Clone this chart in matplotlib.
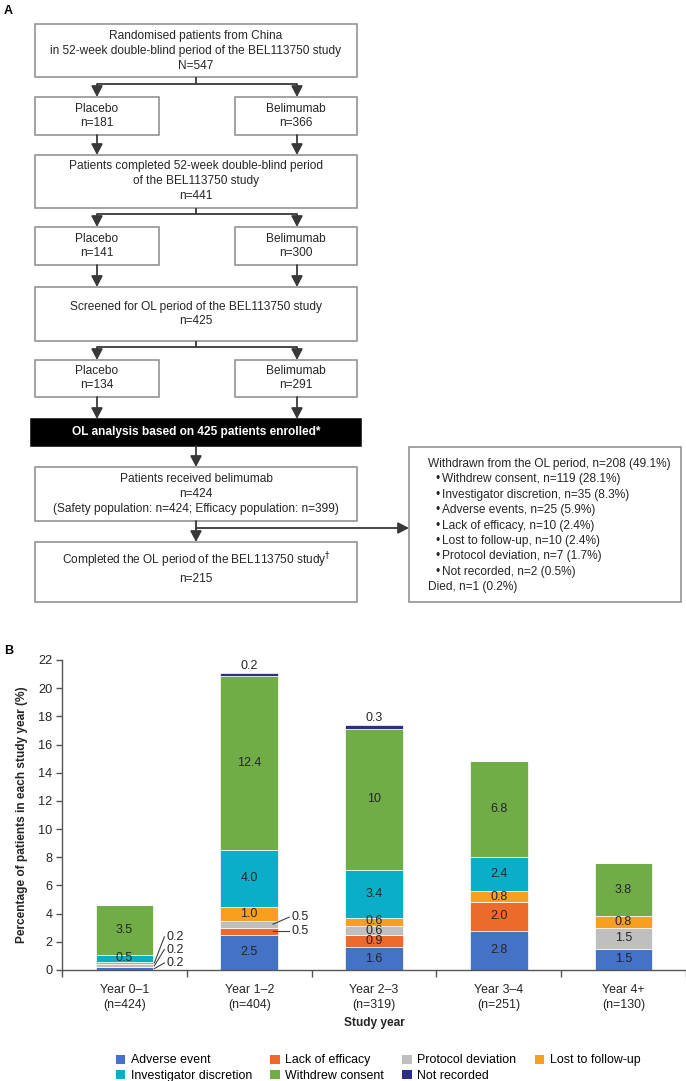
import matplotlib
matplotlib.use("Agg")
import matplotlib.pyplot as plt
from matplotlib.patches import Rectangle, Patch
import numpy as np

plt.rcParams['font.family'] = ['Liberation Sans', 'DejaVu Sans']

# ---------------- data ----------------
categories = ['Year 0\u20131\n(n=424)', 'Year 1\u20132\n(n=404)', 'Year 2\u20133\n(n=319)',
              'Year 3\u20134\n(n=251)', 'Year 4+\n(n=130)']
series_names = ['Adverse event', 'Lack of efficacy', 'Protocol deviation', 'Lost to follow-up',
                'Investigator discretion', 'Withdrew consent', 'Not recorded']
adverse_event = [0.2, 2.5, 1.6, 2.8, 1.5]
lack_of_efficacy = [0.0, 0.5, 0.9, 2.0, 0.0]
protocol_deviation = [0.2, 0.5, 0.6, 0.0, 1.5]
lost_to_follow_up = [0.2, 1.0, 0.6, 0.8, 0.8]
investigator_discretion = [0.5, 4.0, 3.4, 2.4, 0.0]
withdrew_consent = [3.5, 12.4, 10.0, 6.8, 3.8]
not_recorded = [0.0, 0.2, 0.3, 0.0, 0.0]
withdrew_labels = ['3.5', '12.4', '10', '6.8', '3.8']

series = [adverse_event, lack_of_efficacy, protocol_deviation, lost_to_follow_up,
          investigator_discretion, withdrew_consent, not_recorded]
colors = ['#4472C4', '#EC6A2C', '#BFBFBF', '#F8A01E', '#0BAEC8', '#70AD47', '#2B2E83']

# small segments labelled outside with leader lines: (category, series index) -> label y, line start x offset
outside = {(0, 3): (2.35, 0.24), (0, 2): (1.45, 0.24), (0, 0): (0.5, 0.24),
           (1, 2): (3.75, 0.19), (1, 1): (2.75, 0.19)}
# small vertical nudges for crowded in-bar labels: (category, series index) -> offset
nudge = {(2, 3): 0.08, (2, 2): -0.04}

W, H = 686, 1081
fig = plt.figure(figsize=(W / 100, H / 100), dpi=100)

# ---------------- panel A: flowchart ----------------
fa = fig.add_axes([0, 0, 1, 1])
fa.set_xlim(0, W)
fa.set_ylim(H, 0)
fa.axis('off')

FS = 8.6
BOX_EC = '#8a8a8a'
LINE_C = '#383838'

def box(x0, x1, y0, y1, fc='white', ec=BOX_EC):
    fa.add_patch(Rectangle((x0, y0), x1 - x0, y1 - y0, fc=fc, ec=ec, lw=1.1, zorder=2))

def ctext(x, y, s, **kw):
    fa.text(x, y, s, ha='center', va='center', fontsize=FS, color='#262626',
            linespacing=1.32, zorder=3, **kw)

def arrow(x, y0, y1):
    fa.annotate('', xy=(x, y1), xytext=(x, y0),
                arrowprops=dict(arrowstyle='-|>,head_width=0.34,head_length=0.65',
                                color=LINE_C, lw=1.3, shrinkA=0, shrinkB=0), zorder=3)

def line(xs, ys):
    fa.plot(xs, ys, color=LINE_C, lw=1.3, solid_capstyle='butt', zorder=3)

def split(ytop, ybar, ytip):
    line([196, 196], [ytop, ybar])
    line([97, 297], [ybar, ybar])
    arrow(97, ybar, ytip)
    arrow(297, ybar, ytip)

fa.text(4, 11, 'A', fontsize=9, fontweight='bold', ha='left', va='center')

box(35, 357, 24, 77)
ctext(196, 51, 'Randomised patients from China\nin 52-week double-blind period of the BEL113750 study\nN=547')
split(77, 84, 97)
box(35, 159, 97, 135); ctext(97, 116, 'Placebo\nn=181')
box(235, 357, 97, 135); ctext(296, 116, 'Belimumab\nn=366')
arrow(97, 135, 155); arrow(297, 135, 155)

box(35, 357, 155, 208)
ctext(196, 181, 'Patients completed 52-week double-blind period\nof the BEL113750 study\nn=441')
split(208, 214, 227)
box(35, 159, 227, 265); ctext(97, 246, 'Placebo\nn=141')
box(235, 357, 227, 265); ctext(296, 246, 'Belimumab\nn=300')
arrow(97, 265, 287); arrow(297, 265, 287)

box(35, 357, 287, 341)
ctext(196, 314, 'Screened for OL period of the BEL113750 study\nn=425')
split(341, 347, 360)
box(35, 159, 360, 397); ctext(97, 378, 'Placebo\nn=134')
box(235, 357, 360, 397); ctext(296, 378, 'Belimumab\nn=291')
arrow(97, 397, 419); arrow(297, 397, 419)

box(31, 361, 419, 446, fc='black', ec='black')
fa.text(196, 432.5, 'OL analysis based on 425 patients enrolled*', ha='center', va='center',
        fontsize=8.6, fontweight='bold', color='white', zorder=3)
arrow(196, 446, 467)

box(35, 357, 467, 521)
ctext(196, 494, 'Patients received belimumab\nn=424\n(Safety population: n=424; Efficacy population: n=399)')
arrow(196, 521, 542)
fa.annotate('', xy=(409, 528), xytext=(196, 528),
            arrowprops=dict(arrowstyle='-|>,head_width=0.34,head_length=0.65',
                            color=LINE_C, lw=1.3, shrinkA=0, shrinkB=0), zorder=3)

box(35, 357, 542, 602)
ctext(196, 568, 'Completed the OL period of the BEL113750 study$^{\\dagger}$\nn=215')

box(409, 681, 447, 602)
right_lines = [('Withdrawn from the OL period, n=208 (49.1%)', 0),
               ('Withdrew consent, n=119 (28.1%)', 1),
               ('Investigator discretion, n=35 (8.3%)', 1),
               ('Adverse events, n=25 (5.9%)', 1),
               ('Lack of efficacy, n=10 (2.4%)', 1),
               ('Lost to follow-up, n=10 (2.4%)', 1),
               ('Protocol deviation, n=7 (1.7%)', 1),
               ('Not recorded, n=2 (0.5%)', 1),
               ('Died, n=1 (0.2%)', 0)]
for i, (s, bullet) in enumerate(right_lines):
    y = 464 + i * 15.4
    if bullet:
        fa.text(435, y, '\u2022', ha='left', va='center', fontsize=FS, color='#262626', zorder=3)
        fa.text(442, y, s, ha='left', va='center', fontsize=FS, color='#262626', zorder=3)
    else:
        fa.text(428, y, s, ha='left', va='center', fontsize=FS, color='#262626', zorder=3)

fa.text(4, 651, 'B', fontsize=9, fontweight='bold', ha='left', va='center')

# ---------------- panel B: stacked bar chart ----------------
ax = fig.add_axes([62 / W, 1 - 970 / H, (686 - 62) / W, (970 - 660) / H])
x = np.arange(len(categories))
bw = 0.46
bottom = np.zeros(len(categories))
TXT = '#262626'
VFS = 9.0
for si, (vals, col, name) in enumerate(zip(series, colors, series_names)):
    vals = np.array(vals, dtype=float)
    ax.bar(x, vals, bw, bottom=bottom, color=col, edgecolor='white', linewidth=0.5, label=name, zorder=2)
    for ci, v in enumerate(vals):
        if v <= 0:
            continue
        lab = withdrew_labels[ci] if si == 5 else f'{v:.1f}'
        yc = bottom[ci] + v / 2 + nudge.get((ci, si), 0.0)
        if si == 6:
            ax.text(x[ci], bottom[ci] + v + 0.45, lab, ha='center', va='center', fontsize=VFS, color=TXT)
        elif (ci, si) in outside:
            ly, sx = outside[(ci, si)]
            ax.plot([x[ci] + sx, x[ci] + 0.32], [yc, ly], color='#404040', lw=0.8, zorder=3, clip_on=False)
            ax.text(x[ci] + 0.335, ly, lab, ha='left', va='center', fontsize=VFS, color=TXT)
        else:
            ax.text(x[ci], yc, lab, ha='center', va='center', fontsize=VFS, color=TXT, zorder=4)
    bottom += vals

ax.set_xlim(-0.5, 4.5)
ax.set_ylim(0, 22)
ax.set_yticks(np.arange(0, 23, 2))
ax.set_xticks(x)
ax.set_xticklabels(categories, fontsize=FS + 0.3, color=TXT, linespacing=1.35)
ax.set_xticks(np.arange(-0.5, 5, 1), minor=True)
ax.tick_params(axis='x', which='major', length=0, pad=10)
ax.tick_params(axis='x', which='minor', length=5, width=1, color='#555555', direction='out')
ax.tick_params(axis='y', length=4, width=1, color='#555555', labelsize=FS + 0.6, labelcolor=TXT, pad=3)
for s in ['top', 'right']:
    ax.spines[s].set_visible(False)
for s in ['left', 'bottom']:
    ax.spines[s].set_color('#555555')
    ax.spines[s].set_linewidth(1.0)
ax.set_xlabel('Study year', fontsize=FS, fontweight='bold', color=TXT, labelpad=4)
ax.set_ylabel('Percentage of patients in each study year (%)', fontsize=FS, fontweight='bold',
              color=TXT, labelpad=7)

order = [0, 4, 1, 5, 2, 6, 3]
hs = [Patch(facecolor=colors[i], edgecolor='none') for i in order]
ls = [series_names[i] for i in order]
fig.legend(hs, ls, ncol=4, loc='center', bbox_to_anchor=(0.551, 1 - 1068 / H), frameon=False,
           fontsize=FS + 0.3, handlelength=0.75, handleheight=0.75, handletextpad=0.45,
           columnspacing=1.5, labelspacing=0.25, borderaxespad=0)

fig.savefig('out.png', dpi=100)
